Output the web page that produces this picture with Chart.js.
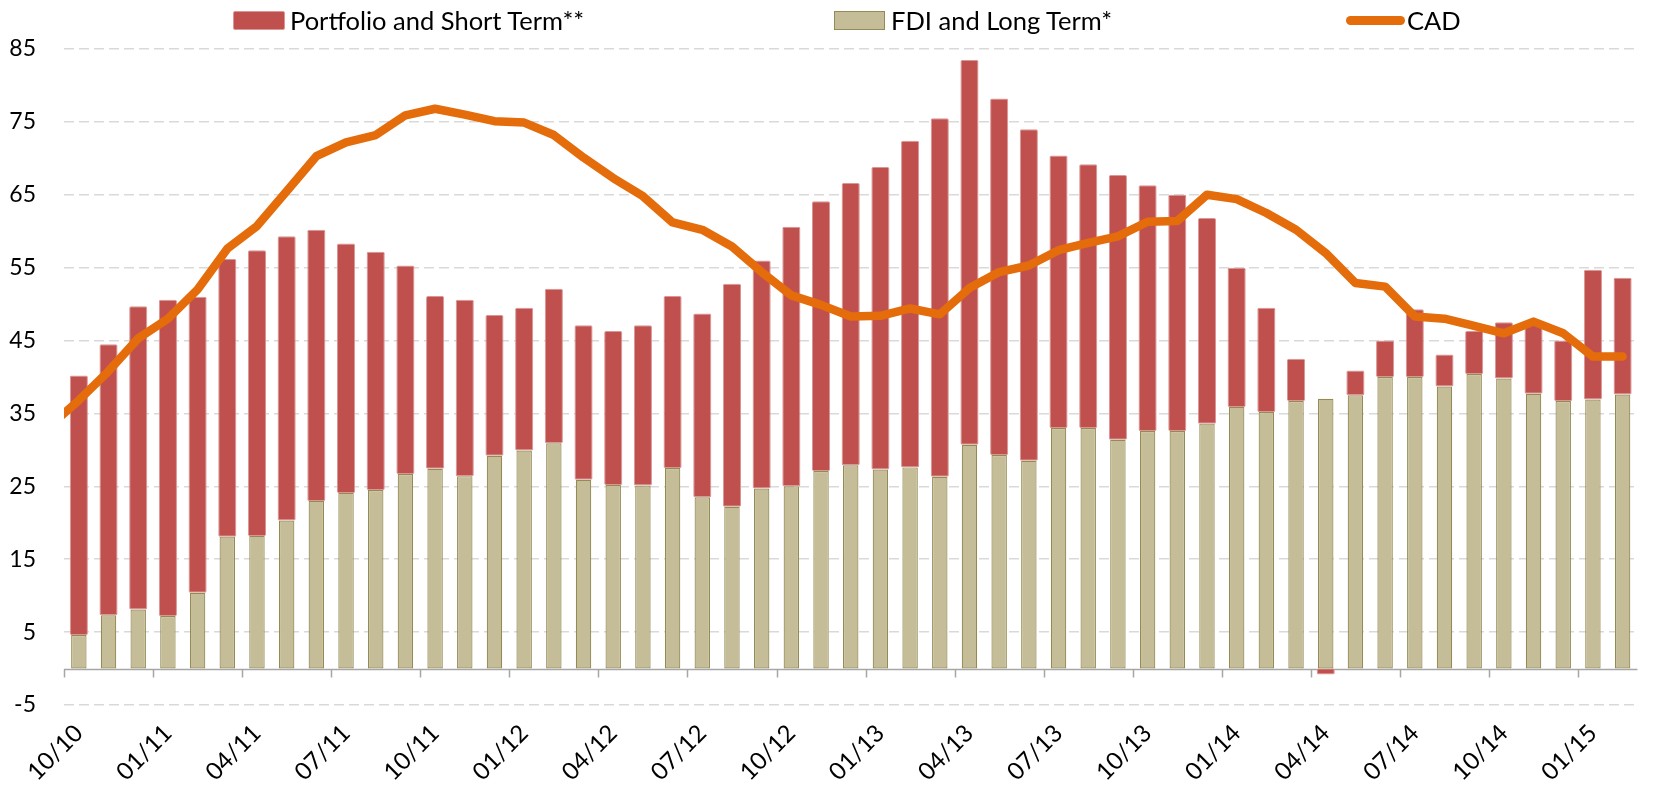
<!DOCTYPE html>
<html>
<head>
<meta charset="utf-8">
<script src="https://cdn.jsdelivr.net/npm/chart.js@4.4.1/dist/chart.umd.min.js"></script>
<style>
  html, body { margin: 0; padding: 0; background: #ffffff; }
  #wrap { position: relative; width: 1657px; height: 791px; overflow: hidden; }
  #c { position: absolute; left: 0; top: 0; }
  .lg { position: absolute; top: 6px; height: 28px; display: flex; align-items: center;
        font-family: Lato, "Noto Sans", sans-serif; font-size: 25.5px; color: #000; white-space: nowrap; }
  .sw { display: inline-block; box-sizing: border-box; }
</style>
</head>
<body>
<div id="wrap">
  <canvas id="c" width="1657" height="791"></canvas>
  <div class="lg" style="left:233px"><span class="sw" style="width:52px;height:19px;background:#C0504D;border:1px solid #D99694;border-radius:2px;margin-right:5px"></span>Portfolio and Short Term**</div>
  <div class="lg" style="left:834px"><span class="sw" style="width:51px;height:19px;background:#C4BD97;border:1px solid #948A54;margin-right:6px"></span>FDI and Long Term*</div>
  <div class="lg" style="left:1346px"><span class="sw" style="width:59px;height:9px;background:#E46C0A;border-radius:5px;margin-right:2px"></span>CAD</div>
</div>
<script>
// Month categories (bars), one per month
const months = ['10/10','11/10','12/10','01/11','02/11','03/11','04/11','05/11','06/11','07/11','08/11','09/11',
  '10/11','11/11','12/11','01/12','02/12','03/12','04/12','05/12','06/12','07/12','08/12','09/12',
  '10/12','11/12','12/12','01/13','02/13','03/13','04/13','05/13','06/13','07/13','08/13','09/13',
  '10/13','11/13','12/13','01/14','02/14','03/14','04/14','05/14','06/14','07/14','08/14','09/14',
  '10/14','11/14','12/14','01/15','02/15'];

// FDI and Long Term* (beige, bottom of stack)
const fdi = [4.6,7.3,8.1,7.2,10.4,18.1,18.2,20.3,23.0,24.1,24.5,26.7,
  27.4,26.4,29.2,29.9,30.9,25.9,25.2,25.1,27.5,23.5,22.2,24.7,
  25.0,27.1,27.9,27.3,27.6,26.3,30.7,29.3,28.5,33.0,33.0,31.4,
  32.6,32.6,33.6,35.9,35.2,36.7,37.0,37.5,40.0,40.0,38.7,40.4,
  39.8,37.7,36.7,36.9,37.6];

// Portfolio and Short Term** (red, stacked on top)
const portfolio = [35.6,37.2,41.6,43.4,40.6,38.1,39.2,39.0,37.2,34.2,32.7,28.6,
  23.7,24.2,19.3,19.6,21.2,21.2,21.1,22.0,23.6,25.2,30.6,31.3,
  35.6,37.0,38.7,41.5,44.8,49.2,52.8,48.9,45.5,37.4,36.2,36.3,
  33.7,32.4,28.2,19.1,14.3,5.8,-0.8,3.4,5.0,9.3,4.4,5.9,
  7.7,9.6,8.3,17.8,16.0];

// CAD line: starts one month earlier (09/10), its first segment is clipped by the plot edge
const cadMonths = ['09/10'].concat(months);
const cad = [33.2,36.8,40.8,45.3,48.0,52.0,57.6,60.7,65.5,70.3,72.2,73.2,75.9,
  76.8,76.0,75.1,74.9,73.2,70.1,67.3,64.8,61.2,60.2,57.9,54.4,
  51.2,49.9,48.3,48.4,49.4,48.6,52.2,54.4,55.3,57.4,58.4,59.3,
  61.3,61.4,65.0,64.4,62.5,60.2,57.0,52.9,52.4,48.3,48.0,47.0,
  46.0,47.6,46.0,42.8,42.8];

// Axis ticks
const yTicks = [-5, 5, 15, 25, 35, 45, 55, 65, 75, 85];
const labelEvery = 3;

const cadPoints = cad.map((v, i) => ({ x: i - 1, y: v }));

const zeroAxis = {
  id: 'zeroAxis',
  beforeDatasetsDraw(chart) {
    const { ctx, chartArea, scales } = chart;
    const y0 = Math.round(scales.y.getPixelForValue(0)) + 0.5;
    const xs = scales.x;
    const w = (chartArea.right - chartArea.left) / months.length;
    ctx.save();
    ctx.strokeStyle = '#A6A6A6';
    ctx.lineWidth = 1.5;
    ctx.beginPath();
    ctx.moveTo(chartArea.left, y0);
    ctx.lineTo(chartArea.right, y0);
    for (let i = 0; i < months.length; i += labelEvery) {
      const xb = Math.round(xs.getPixelForValue(i) - w / 2) + 0.5;
      ctx.moveTo(xb, y0);
      ctx.lineTo(xb, y0 + 8);
    }
    ctx.stroke();
    ctx.restore();
  }
};

new Chart(document.getElementById('c'), {
  data: {
    labels: months,
    datasets: [
      {
        type: 'line', label: 'CAD', data: cadPoints, xAxisID: 'x2', yAxisID: 'y',
        borderColor: '#E46C0A', borderWidth: 8.5, pointRadius: 0, tension: 0,
        borderCapStyle: 'round', borderJoinStyle: 'round', clip: 0, order: 0, stack: 'cad'
      },
      {
        type: 'bar', label: 'FDI and Long Term*', data: fdi, xAxisID: 'x', yAxisID: 'y',
        backgroundColor: '#C4BD97', borderColor: '#948A54', borderWidth: 1.2, borderSkipped: false,
        grouped: false, barPercentage: 0.52, categoryPercentage: 1, order: 1, stack: 'flows'
      },
      {
        type: 'bar', label: 'Portfolio and Short Term**', data: portfolio, xAxisID: 'x', yAxisID: 'y',
        backgroundColor: '#C0504D', borderColor: '#D99694', borderWidth: 1, borderSkipped: false, borderRadius: 1.5,
        grouped: false, barPercentage: 0.61, categoryPercentage: 1, order: 2, stack: 'flows'
      }
    ]
  },
  options: {
    responsive: false,
    animation: false,
    devicePixelRatio: 1,
    layout: { padding: { top: 49, right: 3, left: 0, bottom: 0 } },
    plugins: { legend: { display: false }, tooltip: { enabled: false } },
    scales: {
      x: {
        type: 'category', stacked: true, offset: true,
        grid: { display: false, drawTicks: false },
        border: { display: false },
        ticks: {
          autoSkip: false, minRotation: 45, maxRotation: 45, padding: 14,
          color: '#000', font: { family: 'Lato', size: 24 },
          callback: (v, i) => (i % labelEvery === 0 ? months[i] : '')
        },
        afterFit: (s) => { s.height = 86; }
      },
      x2: { type: 'linear', display: false, min: -0.5, max: months.length - 0.5 },
      y: {
        type: 'linear', stacked: true, min: -5, max: 85,
        afterBuildTicks: (s) => { s.ticks = yTicks.map(v => ({ value: v })); },
        grid: { color: '#D9D9D9', lineWidth: 1.5, drawTicks: false },
        border: { display: false, dash: [10, 5] },
        ticks: { padding: 28, color: '#000', font: { family: 'Lato', size: 23 } },
        afterFit: (s) => { s.width = 64; }
      }
    }
  },
  plugins: [zeroAxis]
});
</script>
</body>
</html>
